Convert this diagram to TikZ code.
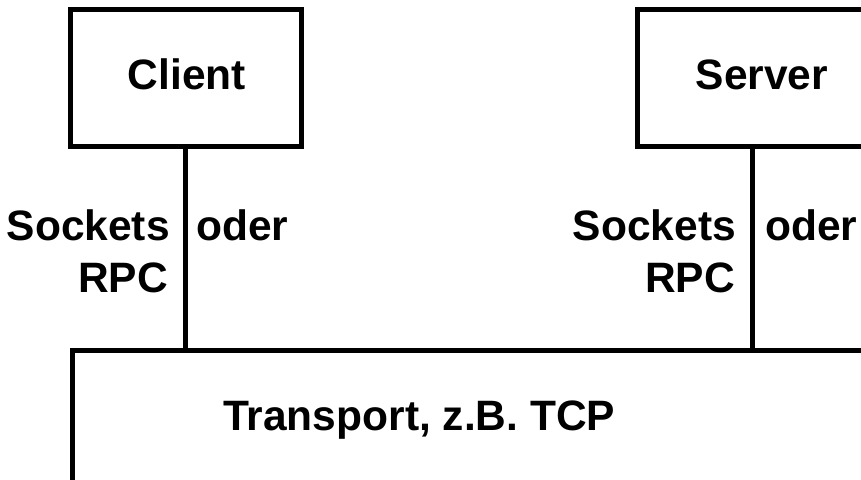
\documentclass[tikz,border=0pt]{standalone}
\usepackage{fontspec}
\setmainfont{Liberation Sans}
\usetikzlibrary{positioning}

\begin{document}
\begin{tikzpicture}[>=latex,x=1pt,y=-1pt,
	kasten/.style={draw,line width=5pt,minimum width=231pt,minimum height=137pt,
		inner sep=0pt,font=\bfseries\fontsize{42.5}{43}\selectfont},
	schrift/.style={inner sep=0pt,font=\bfseries\fontsize{42.5}{43}\selectfont}]

\def\bildbreite{861}
\def\bildhoehe{479}

\useasboundingbox (0,0) rectangle ({\bildbreite},{\bildhoehe});
\clip (0,0) rectangle ({\bildbreite},{\bildhoehe});

% Kaesten
\node[kasten] (client) at (185.5,77.5) {};
\node[schrift,anchor=base] (clienttext) at (187,89) {Client};
\node[kasten] (server) at (752.5,77.5) {};
\node[schrift,anchor=base] (servertext) at (762,89) {Server};
\node[draw,line width=5pt,minimum width=900pt,minimum height=132pt,
	inner sep=0pt,anchor=north west] (transport) at (70,348) {};
\node[schrift,anchor=base west] (transporttext) at (223,430) {Transport, z.B. TCP};

% Verbindungen
\draw[line width=5pt] (client.south) -- ([yshift=-4pt]client.south |- transport.north);
\draw[line width=5pt] (server.south) -- ([yshift=-4pt]server.south |- transport.north);

% Beschriftung
\node[schrift,anchor=base east] (csockets) at (170,240) {Sockets};
\node[schrift,anchor=base west] (coder) at (196,240) {oder};
\node[schrift,anchor=base east] (crpc) at (168,292) {RPC};
\node[schrift,anchor=base east] (ssockets) at (736,240) {Sockets};
\node[schrift,anchor=base west] (soder) at (765,240) {oder};
\node[schrift,anchor=base east] (srpc) at (735,292) {RPC};

\end{tikzpicture}
\end{document}
